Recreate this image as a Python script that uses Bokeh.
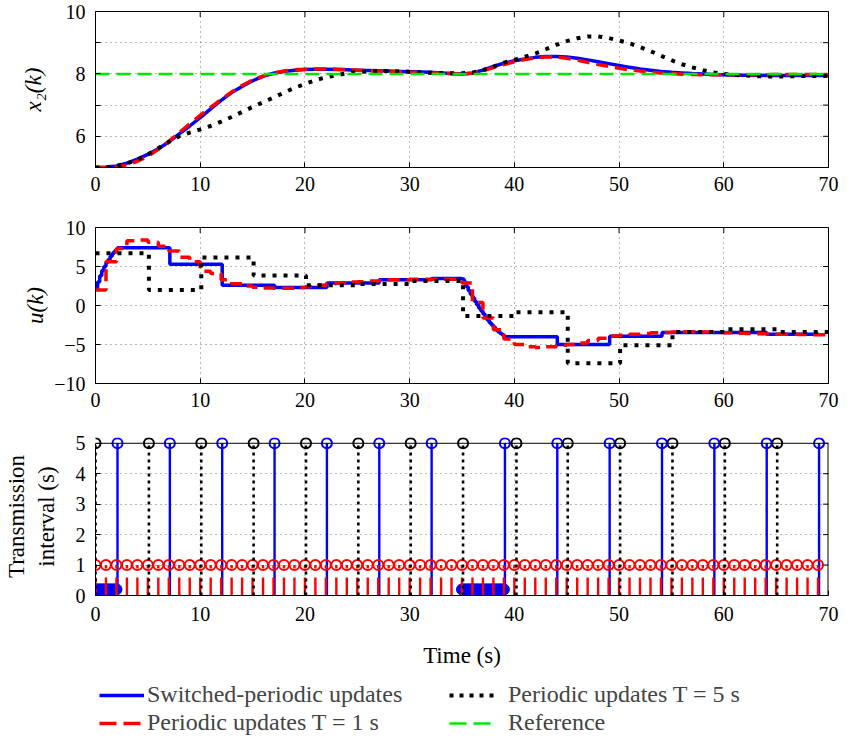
import math
from bokeh.plotting import figure
from bokeh.models import Range1d, FixedTicker, Legend, LegendItem, Span
from bokeh.layouts import column
from bokeh.embed import file_html
from bokeh.resources import INLINE

FONT = "Liberation Serif"
BLUE = "#0000ff"
RED = "#ff0000"
BLACK = "#000000"
GREEN = "#00e600"

# ---------------- data ----------------
x_ticks = [0, 10, 20, 30, 40, 50, 60, 70]
x_end = 70

time_x = list(range(0, 71))
x2_switched = [5.00, 5.01, 5.05, 5.14, 5.27, 5.42, 5.60, 5.82, 6.08, 6.33,
               6.60, 6.88, 7.15, 7.40, 7.60, 7.78, 7.92, 8.02, 8.08, 8.12,
               8.14, 8.15, 8.15, 8.14, 8.13, 8.12, 8.11, 8.10, 8.09, 8.08,
               8.07, 8.06, 8.05, 8.03, 8.01, 8.00, 8.03, 8.12, 8.24, 8.34,
               8.42, 8.48, 8.53, 8.56, 8.56, 8.54, 8.50, 8.45, 8.39, 8.33,
               8.27, 8.21, 8.16, 8.12, 8.08, 8.05, 8.03, 8.01, 8.00, 7.98,
               7.97, 7.96, 7.96, 7.96, 7.95, 7.95, 7.95, 7.95, 7.95, 7.95, 7.95]
x2_periodic_T1 = [5.00, 5.00, 5.02, 5.08, 5.20, 5.36, 5.58, 5.84, 6.12, 6.40,
                  6.67, 6.93, 7.18, 7.42, 7.63, 7.80, 7.93, 8.03, 8.09, 8.13,
                  8.15, 8.16, 8.16, 8.15, 8.14, 8.12, 8.10, 8.09, 8.07, 8.06,
                  8.05, 8.04, 8.03, 8.02, 8.01, 8.00, 8.02, 8.10, 8.20, 8.30,
                  8.39, 8.46, 8.51, 8.54, 8.54, 8.50, 8.44, 8.37, 8.30, 8.24,
                  8.18, 8.13, 8.09, 8.06, 8.03, 8.01, 7.99, 7.98, 7.97, 7.97,
                  7.97, 7.97, 7.97, 7.97, 7.97, 7.98, 7.98, 7.98, 7.98, 7.98, 7.98]
x2_periodic_T5 = [5.00, 5.01, 5.05, 5.13, 5.25, 5.42, 5.62, 5.82, 6.00, 6.12,
                  6.22, 6.33, 6.47, 6.62, 6.78, 6.94, 7.09, 7.24, 7.40, 7.55,
                  7.68, 7.80, 7.89, 7.96, 8.02, 8.06, 8.08, 8.09, 8.09, 8.08,
                  8.07, 8.05, 8.04, 8.03, 8.02, 8.02, 8.04, 8.12, 8.23, 8.36,
                  8.45, 8.55, 8.65, 8.79, 8.93, 9.05, 9.14, 9.20, 9.20, 9.15,
                  9.07, 8.98, 8.86, 8.73, 8.58, 8.44, 8.31, 8.21, 8.12, 8.05,
                  8.00, 7.97, 7.95, 7.93, 7.92, 7.92, 7.92, 7.93, 7.93, 7.93, 7.93]
x2_reference = [8.0, 8.0]
x2_reference_t = [0, 70]

# switched-periodic transmissions
sw_times = [0.0, 0.2, 0.4, 0.6, 0.8, 1.0, 1.2, 1.4, 1.6, 1.8, 2.0,
            2.1, 7.1, 12.1, 17.1, 22.1, 27.1, 32.1,
            35.0, 35.2, 35.4, 35.6, 35.8, 36.0, 36.2, 36.4, 36.6, 36.8, 37.0,
            37.2, 37.4, 37.6, 37.8, 38.0, 38.2, 38.4, 38.6, 38.8, 39.0,
            39.1, 44.1, 49.1, 54.1, 59.1, 64.1, 69.1]
sw_u = [2.1, 3.0, 3.8, 4.5, 5.0, 5.5, 5.9, 6.3, 6.7, 7.0, 7.25,
        7.4, 5.3, 2.6, 2.3, 2.9, 3.3, 3.45,
        3.4, 3.0, 2.4, 1.9, 1.4, 1.0, 0.5, 0.1, -0.35, -0.7, -1.1,
        -1.5, -1.85, -2.2, -2.5, -2.8, -3.1, -3.35, -3.55, -3.75, -3.9,
        -4.0, -5.0, -3.95, -3.45, -3.45, -3.7]
sw_interval = [0.2, 0.2, 0.2, 0.2, 0.2, 0.2, 0.2, 0.2, 0.2, 0.2, 0.2,
               5, 5, 5, 5, 5, 5, 5,
               0.2, 0.2, 0.2, 0.2, 0.2, 0.2, 0.2, 0.2, 0.2, 0.2, 0.2,
               0.2, 0.2, 0.2, 0.2, 0.2, 0.2, 0.2, 0.2, 0.2, 0.2,
               5, 5, 5, 5, 5, 5, 5]

# periodic T = 1 s
t1_times = list(range(0, 70))
t1_u = [2.0, 5.6, 7.3, 8.3, 8.4, 8.1, 7.6, 7.0, 6.2, 5.6,
        4.4, 4.1, 3.3, 2.8, 2.5, 2.35, 2.25, 2.2, 2.2, 2.3,
        2.4, 2.6, 2.8, 2.9, 3.0, 3.05, 3.15, 3.2, 3.3, 3.3,
        3.35, 3.35, 3.35, 3.35, 3.35, 2.9, 0.4, -1.6, -3.1, -4.3,
        -5.0, -5.3, -5.4, -5.3, -5.1, -5.0, -4.8, -4.5, -4.2, -3.9,
        -3.8, -3.7, -3.6, -3.5, -3.45, -3.4, -3.38, -3.38, -3.4, -3.45,
        -3.5, -3.55, -3.6, -3.62, -3.65, -3.68, -3.7, -3.72, -3.75, -3.76]
t1_interval = [1] * 70

# periodic T = 5 s
t5_times = [0, 5.1, 10.1, 15.1, 20.1, 25.1, 30.1, 35.1, 40.2, 45.1, 50.1, 55.1, 60.1, 65.1]
t5_u = [6.7, 2.0, 6.15, 3.85, 2.6, 2.75, 3.15, -1.35, -0.85, -7.4, -5.1, -3.4, -3.05, -3.4]
t5_interval = [5] * 14

# ---------------- helpers ----------------
FIG_W = 839
LEFT = 88
RIGHT = 11
TICK = 11  # size of the inward tick marks drawn on the right/top edges


def style_axis(ax):
    ax.major_label_text_font = FONT
    ax.major_label_text_font_size = "20px"
    ax.major_label_text_color = "black"
    ax.axis_label_text_font = FONT
    ax.axis_label_text_font_size = "23px"
    ax.axis_label_text_font_style = "normal"
    ax.axis_label_text_color = "black"
    ax.major_tick_in = 5
    ax.major_tick_out = 0
    ax.minor_tick_line_color = None
    ax.axis_line_color = "black"
    ax.major_tick_line_color = "black"


def make_fig(height, top, bottom, y0, y1, y_ticks, overrides=None, y_edge=None):
    p = figure(width=FIG_W, height=height, x_range=Range1d(0, x_end),
               y_range=Range1d(y0, y1), output_backend="svg",
               toolbar_location=None, min_border_left=LEFT,
               min_border_right=RIGHT, min_border_top=top,
               min_border_bottom=bottom)
    p.background_fill_color = "white"
    p.border_fill_color = "white"
    p.outline_line_color = "black"
    p.xaxis.ticker = FixedTicker(ticks=x_ticks)
    p.yaxis.ticker = FixedTicker(ticks=y_ticks)
    style_axis(p.xaxis[0])
    style_axis(p.yaxis[0])
    p.xaxis.major_label_standoff = 9
    p.yaxis.major_label_standoff = 10
    if overrides:
        p.yaxis.major_label_overrides = overrides
    p.xgrid.ticker = FixedTicker(ticks=x_ticks)
    p.ygrid.ticker = FixedTicker(ticks=y_ticks)
    for g in (p.xgrid, p.ygrid):
        g.grid_line_color = "black"
        g.grid_line_alpha = 0.55
        g.grid_line_dash = "1 4"
        g.grid_line_width = 1
    # inward tick marks on the right edge (half of each dash is clipped)
    p.scatter([x_end] * len(y_ticks), y_ticks, marker="dash", size=TICK,
              line_color="black", line_width=1)
    if y_edge is not None:
        p.scatter(x_ticks, [y_edge] * len(x_ticks), marker="dash", size=TICK,
                  angle=math.pi / 2, line_color="black", line_width=1)
    return p


# ---------------- top: x2(k) ----------------
p1 = make_fig(216, 11, 49, 5, 10, [5, 6, 7, 8, 9, 10],
              overrides={5: "", 7: "", 9: ""}, y_edge=10)
p1.yaxis.axis_label = "x\u2082(k)"
p1.yaxis.axis_label_text_font_style = "italic"
p1.yaxis.axis_label_standoff = 17
p1.line(time_x, x2_switched, line_color=BLUE, line_width=3.5)
p1.line(time_x, x2_periodic_T1, line_color=RED, line_width=3.5, line_dash="12 7")
p1.line(time_x, x2_periodic_T5, line_color=BLACK, line_width=4, line_dash="4 7")
p1.line(x2_reference_t, x2_reference, line_color=GREEN, line_width=2.5, line_dash="14 7")

# ---------------- middle: u(k) ----------------
p2 = make_fig(214, 11, 47, -10, 10, [-10, -5, 0, 5, 10],
              overrides={-10: "\u221210", -5: "\u22125"}, y_edge=10)
p2.yaxis.axis_label = "u(k)"
p2.yaxis.axis_label_text_font_style = "italic"
p2.yaxis.axis_label_standoff = 3
p2.step(sw_times + [x_end], sw_u + [sw_u[-1]], mode="after",
        line_color=BLUE, line_width=3.5)
p2.step(t1_times + [x_end], t1_u + [t1_u[-1]], mode="after",
        line_color=RED, line_width=3.5, line_dash="12 7")
p2.step(t5_times + [x_end], t5_u + [t5_u[-1]], mode="after",
        line_color=BLACK, line_width=4, line_dash="4 7")

# ---------------- bottom: transmission interval ----------------
y3_top = 5.19
p3 = make_fig(240, 7, 71, 0, y3_top, [0, 1, 2, 3, 4, 5])
p3.outline_line_color = None
p3.yaxis.bounds = (0, 5)
p3.xgrid.grid_line_color = None
p3.ygrid.ticker = FixedTicker(ticks=[1, 2, 3, 4])
p3.add_layout(Span(location=5, dimension="width", line_color="black", line_width=1))
gx = x_ticks[1:-1]
p3.segment(gx, [0] * len(gx), gx, [5] * len(gx), line_color="black",
           line_alpha=0.55, line_dash="1 4", line_width=1)
p3.segment([x_end], [0], [x_end], [5], line_color="black", line_width=2)
p3.yaxis.axis_label = "Transmission\ninterval (s)"
p3.yaxis.axis_label_standoff = 14
p3.xaxis.axis_label = "Time (s)"
p3.xaxis.major_label_standoff = 11
p3.xaxis.axis_label_standoff = 19

# switched stems
p3.segment(sw_times, [0] * len(sw_times), sw_times, sw_interval,
           line_color=BLUE, line_width=2.4)
sw_hi_t = [t for t, v in zip(sw_times, sw_interval) if v >= 1]
sw_hi_v = [v for v in sw_interval if v >= 1]
sw_lo_t = [t for t, v in zip(sw_times, sw_interval) if v < 1]
sw_lo_v = [v for v in sw_interval if v < 1]
p3.scatter(sw_lo_t, sw_lo_v, size=11, marker="circle", fill_color=BLUE,
           line_color=BLUE, line_width=1)
# periodic T = 1
p3.segment(t1_times, [0] * len(t1_times), t1_times, t1_interval,
           line_color=RED, line_width=2.4, line_dash="18 9")
p3.scatter(t1_times, t1_interval, size=10, marker="circle", fill_color=None,
           line_color=RED, line_width=2)
# periodic T = 5
p3.segment(t5_times, [0] * len(t5_times), t5_times, t5_interval,
           line_color=BLACK, line_width=2.6, line_dash="3 4")
p3.scatter(t5_times, t5_interval, size=10, marker="circle", fill_color=None,
           line_color=BLACK, line_width=2)
p3.scatter(sw_hi_t, sw_hi_v, size=10, marker="circle", fill_color=None,
           line_color=BLUE, line_width=2)

# ---------------- legend strip ----------------
pl = figure(width=FIG_W, height=66, x_range=Range1d(0, 1), y_range=Range1d(0, 1),
            output_backend="svg", toolbar_location=None, min_border=0)
pl.axis.visible = False
pl.grid.visible = False
pl.outline_line_color = None
pl.background_fill_color = "white"
pl.border_fill_color = "white"
# sample lines (outside the visible range) that carry the legend styles
hidden_x = [2, 3]
hidden_y = [2, 3]
r_sw = pl.line(hidden_x, hidden_y, line_color=BLUE, line_width=3.5)
r_t1 = pl.line(hidden_x, hidden_y, line_color=RED, line_width=3.5, line_dash="17 7")
r_t5 = pl.line(hidden_x, hidden_y, line_color=BLACK, line_width=4, line_dash="4 6")
r_ref = pl.line(hidden_x, hidden_y, line_color=GREEN, line_width=2.5, line_dash="17 7")


def make_legend(items, x, glyph_w, standoff):
    lg = Legend(items=items, location=(x, 0), orientation="vertical")
    lg.border_line_color = None
    lg.background_fill_alpha = 0
    lg.label_text_font = FONT
    lg.label_text_font_size = "24px"
    lg.glyph_width = glyph_w
    lg.glyph_height = 20
    lg.label_standoff = standoff
    lg.spacing = 1
    lg.padding = 0
    lg.margin = 0
    return lg


leg_a = make_legend([LegendItem(label="Switched-periodic updates", renderers=[r_sw]),
                     LegendItem(label="Periodic updates T = 1 s", renderers=[r_t1])],
                    4, 45, 3)
leg_b = make_legend([LegendItem(label="Periodic updates T = 5 s", renderers=[r_t5]),
                     LegendItem(label="Reference", renderers=[r_ref])],
                    354, 47, 12)
pl.add_layout(leg_a)
pl.add_layout(leg_b)

layout = column(p1, p2, p3, pl, spacing=0)
open("out.html", "w").write(file_html(layout, INLINE))
